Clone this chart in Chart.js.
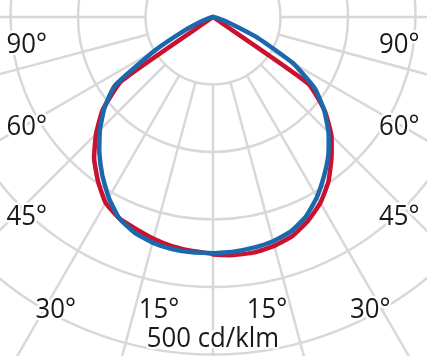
<!DOCTYPE html>
<html>
<head>
<meta charset="utf-8">
<script src="https://cdn.jsdelivr.net/npm/chart.js@4.4.0/dist/chart.umd.min.js"></script>
<style>
    html, body { margin: 0; padding: 0; background: #fff; }
    #chart-container { position: relative; width: 427px; height: 356px; }
</style>
</head>
<body>
<div id="chart-container"><canvas id="ldc-chart"></canvas></div>
<script>
// gamma angle from nadir, degrees
var gamma = [0, 5, 10, 15, 20, 25, 30, 35, 40, 45, 50, 55, 60, 65, 70, 75, 80, 85, 90];

// cd/klm, C0-C180 plane (red)
var c0   = [352, 354, 354, 351, 345, 333, 318, 298, 273, 248, 216, 172, 0, 0, 0, 0, 0, 0, 0];
var c180 = [351, 348, 345, 340, 334, 329, 318, 297, 274, 245, 213, 165, 0, 0, 0, 0, 0, 0, 0];
// cd/klm, C90-C270 plane (blue)
var c90  = [350, 349, 347, 344, 338, 326, 308, 287, 266, 242, 215, 184, 137, 73, 25, 8, 0, 0, 0];
var c270 = [350, 350, 349, 346, 340, 329, 309, 286, 262, 237, 210, 178, 100, 45, 18, 6, 0, 0, 0];

// grid
var ringValues = [100, 200, 300, 400, 500, 600];
var spokeStep = 15;

// labels (position in cd/klm units, mirrored left/right)
var angleLabels = ['90°', '60°', '45°', '30°', '15°'];
var labelX = [276, 276, 276, 233, 80];
var labelY = [-53, -175, -308, -446, -446];
var unitLabel = '500 cd/klm';
var unitLabelY = -489;

// view: pole at (213, 17) px, 0.675 px per cd/klm
var W = 427, H = 356, poleX = 213, poleY = 17, pxPerUnit = 0.675;

function curve(left, right) {
    var pts = [];
    for (var i = gamma.length - 1; i >= 0; i--) {
        var a = gamma[i] * Math.PI / 180;
        pts.push({ x: -left[i] * Math.sin(a), y: -left[i] * Math.cos(a) });
    }
    for (var j = 0; j < gamma.length; j++) {
        var b = gamma[j] * Math.PI / 180;
        pts.push({ x: right[j] * Math.sin(b), y: -right[j] * Math.cos(b) });
    }
    return pts;
}

var polarGrid = {
    id: 'polarGrid',
    beforeDatasetsDraw: function(chart) {
        var ctx = chart.ctx, xs = chart.scales.x, ys = chart.scales.y;
        var cx = xs.getPixelForValue(0), cy = ys.getPixelForValue(0);
        var k = (xs.getPixelForValue(100) - cx) / 100;
        ctx.save();
        ctx.strokeStyle = '#d8d8d8';
        ctx.lineWidth = 2.5;
        ringValues.forEach(function(r) {
            ctx.beginPath();
            ctx.arc(cx, cy, r * k, 0, 2 * Math.PI);
            ctx.stroke();
        });
        var r0 = ringValues[0] * k, r1 = ringValues[ringValues.length - 1] * k;
        for (var a = 0; a < 360; a += spokeStep) {
            var t = a * Math.PI / 180;
            ctx.beginPath();
            ctx.moveTo(cx + r0 * Math.sin(t), cy + r0 * Math.cos(t));
            ctx.lineTo(cx + r1 * Math.sin(t), cy + r1 * Math.cos(t));
            ctx.stroke();
        }
        ctx.restore();
    }
};

function drawLabel(ctx, text, x, y) {
    ctx.save();
    ctx.translate(x, y);
    ctx.scale(0.92, 1);
    ctx.strokeText(text, 0, 0);
    ctx.fillText(text, 0, 0);
    ctx.restore();
}

var polarLabels = {
    id: 'polarLabels',
    afterDatasetsDraw: function(chart) {
        var ctx = chart.ctx, xs = chart.scales.x, ys = chart.scales.y;
        ctx.save();
        ctx.font = '28px "Open Sans", sans-serif';
        ctx.textAlign = 'center';
        ctx.textBaseline = 'alphabetic';
        ctx.fillStyle = '#1a1a1a';
        ctx.strokeStyle = '#ffffff';
        ctx.lineWidth = 5;
        ctx.lineJoin = 'round';
        angleLabels.forEach(function(txt, i) {
            var py = ys.getPixelForValue(labelY[i]);
            drawLabel(ctx, txt, xs.getPixelForValue(-labelX[i]), py);
            drawLabel(ctx, txt, xs.getPixelForValue(labelX[i]), py);
        });
        drawLabel(ctx, unitLabel, xs.getPixelForValue(0), ys.getPixelForValue(unitLabelY));
        ctx.restore();
    }
};

var ctx = document.getElementById('ldc-chart');
var ldcChart = new Chart(ctx, {
    type: 'scatter',
    data: {
        datasets: [{
            label: 'C90 - C270',
            data: curve(c270, c90),
            showLine: true,
            borderColor: '#1c68ac',
            borderWidth: 4.5,
            borderJoinStyle: 'round',
            borderCapStyle: 'round',
            pointRadius: 0,
            tension: 0.15
        }, {
            label: 'C0 - C180',
            data: curve(c180, c0),
            showLine: true,
            borderColor: '#c9122f',
            borderWidth: 4.5,
            borderJoinStyle: 'round',
            borderCapStyle: 'round',
            pointRadius: 0,
            tension: 0.15
        }]
    },
    options: {
        responsive: true,
        maintainAspectRatio: false,
        animation: false,
        layout: { padding: 0 },
        plugins: {
            legend: { display: false },
            tooltip: { enabled: false }
        },
        scales: {
            x: { type: 'linear', display: false, min: -poleX / pxPerUnit, max: (W - poleX) / pxPerUnit },
            y: { type: 'linear', display: false, min: -(H - poleY) / pxPerUnit, max: poleY / pxPerUnit }
        }
    },
    plugins: [polarGrid, polarLabels]
});
</script>
</body>
</html>
